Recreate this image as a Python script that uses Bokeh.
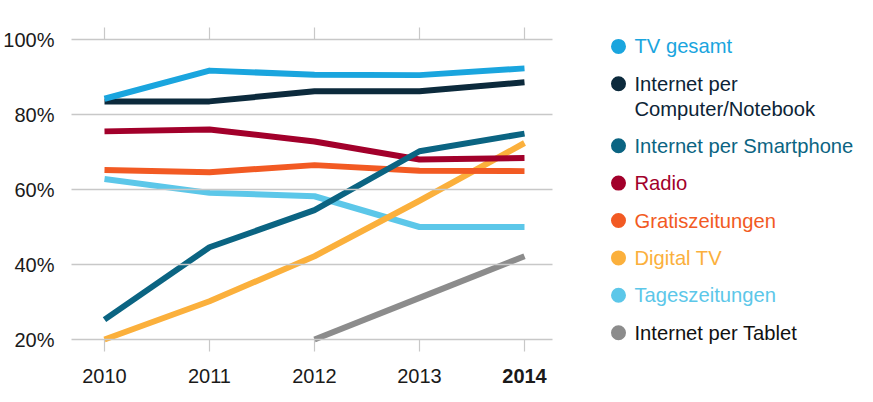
from bokeh.plotting import figure
from bokeh.models import Range1d, FixedTicker, LinearAxis, PrintfTickFormatter, ColumnDataSource, CustomJSTickFormatter
from bokeh.core.properties import value
from bokeh.embed import file_html
from bokeh.resources import INLINE

nan = float("nan")

years = [2010, 2011, 2012, 2013, 2014]
pct_ticks = [20, 40, 60, 80, 100]
year_labels = ["2010", "2011", "2012", "2013", "2014"]

tv_gesamt = [84.2, 91.7, 90.6, 90.5, 92.3]
internet_computer = [83.5, 83.5, 86.2, 86.2, 88.6]
internet_smartphone = [25.3, 44.6, 54.5, 70.2, 74.9]
radio = [75.5, 76.0, 72.8, 68.0, 68.4]
gratiszeitungen = [65.2, 64.6, 66.5, 65.0, 64.9]
digital_tv = [20.0, 30.2, 42.2, 57.0, 72.4]
tageszeitungen = [62.8, 59.1, 58.2, 50.0, 50.0]
internet_tablet = [nan, nan, 20.0, 31.1, 42.2]

labels = ["TV gesamt", "Internet per\nComputer/Notebook", "Internet per Smartphone", "Radio",
          "Gratiszeitungen", "Digital TV", "Tageszeitungen", "Internet per Tablet"]
colors = ["#1aa5de", "#0c2a3c", "#0b6482", "#a2002b", "#f25a23", "#fbb03c", "#5cc7e9", "#8c8c8c"]
text_colors = ["#1aa5de", "#0c2436", "#0b6482", "#a2002b", "#f25a23", "#fbb03c", "#5cc7e9", "#111111"]
series = [tv_gesamt, internet_computer, internet_smartphone, radio,
          gratiszeitungen, digital_tv, tageszeitungen, internet_tablet]

FONT = "Liberation Sans"
GRID = "#c8c8c8"
TXT = "#1a1a1a"

# geometry in picture pixels
W, H = 857, 386
ORIGIN = 1             # picture position of the canvas' top-left corner
X_FIRST = 105          # picture x of first year
PX_YEAR = 105          # pixels per year
Y_BASE = 340           # picture y of 20 %
PX_PCT = 300 / 80      # pixels per percent
GRID_LEFT, GRID_RIGHT = 72, 553

def xd(px):
    return years[0] + (px - X_FIRST) / PX_YEAR

def yd(py):
    return pct_ticks[0] + (Y_BASE - py) / PX_PCT

p = figure(width=W, height=H,
           x_range=Range1d(xd(ORIGIN), xd(ORIGIN + W)), y_range=Range1d(yd(ORIGIN + H), yd(ORIGIN)),
           output_backend="svg", toolbar_location=None,
           min_border_left=0, min_border_right=0, min_border_top=0, min_border_bottom=0)
p.outline_line_color = None
p.grid.visible = False

xa = p.xaxis[0]
xa.fixed_location = pct_ticks[0]
xa.ticker = FixedTicker(ticks=years)
xa.major_label_overrides = {y: (lab if y != years[-1] else "") for y, lab in zip(years, year_labels)}
xa.major_tick_out = 12
xa.major_tick_in = 0
xa.major_tick_line_color = GRID
xa.major_tick_line_width = 1.2
xa.minor_tick_line_color = None
xa.axis_line_color = None
xa.major_label_standoff = 17
xa.major_label_text_font = FONT
xa.major_label_text_font_size = "20px"
xa.major_label_text_color = TXT

ya = p.yaxis[0]
ya.fixed_location = xd(GRID_LEFT)
ya.ticker = FixedTicker(ticks=pct_ticks)
ya.formatter = PrintfTickFormatter(format="%d%%")
ya.major_tick_in = GRID_RIGHT - GRID_LEFT
ya.major_tick_out = 0
ya.major_tick_line_color = GRID
ya.major_tick_line_width = 1.5
ya.minor_tick_line_color = None
ya.axis_line_color = None
ya.major_label_standoff = 17
ya.major_label_text_font = FONT
ya.major_label_text_font_size = "20px"
ya.major_label_text_color = TXT

top = LinearAxis(ticker=FixedTicker(ticks=years), fixed_location=pct_ticks[-1],
                 formatter=CustomJSTickFormatter(code="return ''"))
top.major_tick_out = 12
top.major_tick_in = 0
top.major_tick_line_color = GRID
top.major_tick_line_width = 1.2
top.minor_tick_line_color = None
top.axis_line_color = None
top.major_label_standoff = 0
p.add_layout(top, "above")

for vals, col in reversed(list(zip(series, colors))):
    p.line(years, vals, line_width=6, line_color=col, line_join="round", line_cap="butt")

# bold last year label
p.text(x=[years[-1]], y=[yd(Y_BASE + 12 + 17)], text=[year_labels[-1]],
       text_font=value(FONT), text_font_size="20px", text_font_style="bold",
       text_color=TXT, text_align="center", text_baseline="top")

# legend
dot_x, dot_y, dot_c = [], [], []
tx, ty, tt, tc = [], [], [], []
row_y = 46.9
for lab, col, tcol in zip(labels, colors, text_colors):
    lines = lab.split("\n")
    dot_x.append(xd(619)); dot_y.append(yd(row_y)); dot_c.append(col)
    for j, line in enumerate(lines):
        tx.append(xd(635)); ty.append(yd(row_y + j * 25)); tt.append(line); tc.append(tcol)
    row_y += 37.4 + 24.5 * (len(lines) - 1)

p.scatter(x=dot_x, y=dot_y, size=15, marker="circle", fill_color=dot_c, line_color=None)
src = ColumnDataSource(dict(x=tx, y=ty, text=tt, color=tc))
p.text(x="x", y="y", text="text", text_color="color", source=src,
       text_font=value(FONT), text_font_size="20.2px", text_baseline="middle", text_align="left")

open("out.html", "w").write(file_html(p, INLINE))
